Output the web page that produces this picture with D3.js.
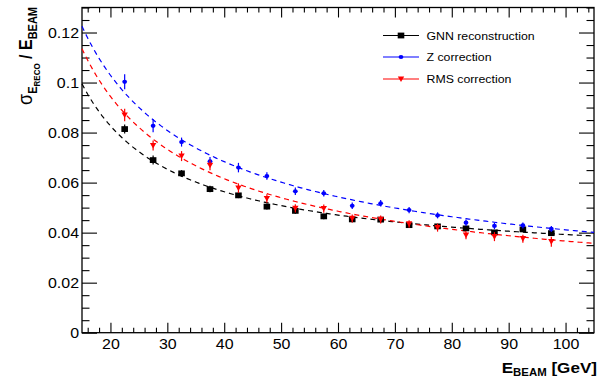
<!DOCTYPE html>
<html>
<head>
<meta charset="utf-8">
<script src="https://cdn.jsdelivr.net/npm/d3@7"></script>
<style>
  html, body { margin: 0; padding: 0; background: #fff; }
  svg { display: block; font-family: "Liberation Sans", Arial, Helvetica, sans-serif; }
</style>
</head>
<body>
<svg id="chart" width="612" height="383"></svg>
<script>
// Beam energies (GeV) of the measured points
const energies = [22.5, 27.5, 32.5, 37.5, 42.5, 47.5, 52.5, 57.5, 62.5, 67.5, 72.5, 77.5, 82.5, 87.5, 92.5, 97.5];

// Relative energy resolution for each method, with its uncertainty
const gnnRes = [0.0814, 0.0690, 0.0637, 0.0574, 0.0549, 0.0504, 0.0487, 0.0465, 0.0453, 0.0452, 0.0430, 0.0425, 0.0417, 0.0401, 0.0413, 0.0398];
const gnnErr = [0.0018, 0.0018, 0.0013, 0.0013, 0.0011, 0.0012, 0.0011, 0.0011, 0.0011, 0.0011, 0.0010, 0.0010, 0.0010, 0.0010, 0.0010, 0.0010];
const zRes   = [0.1003, 0.0827, 0.0762, 0.0685, 0.0660, 0.0626, 0.0565, 0.0557, 0.0507, 0.0517, 0.0490, 0.0469, 0.0440, 0.0427, 0.0429, 0.0415];
const zErr   = [0.0030, 0.0026, 0.0018, 0.0017, 0.0019, 0.0015, 0.0015, 0.0013, 0.0013, 0.0013, 0.0012, 0.0012, 0.0013, 0.0013, 0.0012, 0.0012];
const rmsRes = [0.0870, 0.0748, 0.0706, 0.0669, 0.0578, 0.0536, 0.0497, 0.0496, 0.0457, 0.0453, 0.0435, 0.0420, 0.0390, 0.0384, 0.0376, 0.0364];
const rmsErr = [0.0025, 0.0020, 0.0020, 0.0020, 0.0019, 0.0017, 0.0016, 0.0016, 0.0016, 0.0016, 0.0015, 0.0016, 0.0016, 0.0018, 0.0016, 0.0020];

// Fit parameters, f(E) = a * E^-p + b
const gnnFit = [0.8418, 0.90, 0.0259];
const zFit   = [0.6676, 0.65, 0.00767];
const rmsFit = [0.6965, 0.70, 0.00891];

// Axis ticks
const xMajor = [20, 30, 40, 50, 60, 70, 80, 90, 100];
const yMajor = [0, 0.02, 0.04, 0.06, 0.08, 0.1, 0.12];
const yLabels = ["0", "0.02", "0.04", "0.06", "0.08", "0.1", "0.12"];

const legendNames = ["GNN reconstruction", "Z correction", "RMS correction"];

const svg = d3.select("#chart");
const L = 82, R = 594, T = 7.5, B = 332.7;
const TX = 1.14; // horizontal glyph stretch of the canvas

const x = d3.scaleLinear().domain([15, 105]).range([L, R]);
const y = d3.scaleLinear().domain([0, 0.13]).range([B, T]);

const xMinor = d3.range(16, 105, 2).filter(v => v % 10 !== 0);
const yMinor = d3.range(0, 0.1301, 0.005).filter(v => Math.abs(v / 0.02 - Math.round(v / 0.02)) > 1e-6);

function styleAxis(g) {
  g.select(".domain").remove();
  g.selectAll(".tick line").attr("stroke", "#000").attr("stroke-width", 1.1);
}

// bottom axis
svg.append("g").attr("transform", `translate(0,${B})`)
  .call(d3.axisBottom(x).tickValues(xMajor).tickSize(-10).tickPadding(5).tickFormat(d3.format("d")))
  .call(styleAxis)
  .call(g => g.selectAll("text").attr("font-size", 14).attr("fill", "#000")
      .attr("font-family", "Liberation Sans, Arial, sans-serif")
      .attr("y", 16.3).attr("dy", 0).attr("transform", `scale(${TX},1)`));
svg.append("g").attr("transform", `translate(0,${B})`)
  .call(d3.axisBottom(x).tickValues(xMinor).tickSize(-5).tickFormat(""))
  .call(styleAxis);
// top axis
svg.append("g").attr("transform", `translate(0,${T})`)
  .call(d3.axisTop(x).tickValues(xMajor).tickSize(-10).tickFormat(""))
  .call(styleAxis);
svg.append("g").attr("transform", `translate(0,${T})`)
  .call(d3.axisTop(x).tickValues(xMinor).tickSize(-5).tickFormat(""))
  .call(styleAxis);
// left axis
svg.append("g").attr("transform", `translate(${L},0)`)
  .call(d3.axisLeft(y).tickValues(yMajor).tickSize(-15).tickPadding(3).tickFormat((d, i) => yLabels[i]))
  .call(styleAxis)
  .call(g => g.selectAll("text").attr("font-size", 14).attr("fill", "#000")
      .attr("font-family", "Liberation Sans, Arial, sans-serif")
      .attr("x", -3 / TX).attr("dy", "0.36em").attr("transform", `scale(${TX},1)`));
svg.append("g").attr("transform", `translate(${L},0)`)
  .call(d3.axisLeft(y).tickValues(yMinor).tickSize(-7.5).tickFormat(""))
  .call(styleAxis);
// right axis
svg.append("g").attr("transform", `translate(${R},0)`)
  .call(d3.axisRight(y).tickValues(yMajor).tickSize(-15).tickFormat(""))
  .call(styleAxis);
svg.append("g").attr("transform", `translate(${R},0)`)
  .call(d3.axisRight(y).tickValues(yMinor).tickSize(-7.5).tickFormat(""))
  .call(styleAxis);

// frame
svg.append("rect").attr("x", L).attr("y", T).attr("width", R - L).attr("height", B - T)
  .attr("fill", "none").attr("stroke", "#000").attr("stroke-width", 1.3);

const series = [
  { name: legendNames[0], res: gnnRes, err: gnnErr, fit: gnnFit, color: "#000000", marker: "square" },
  { name: legendNames[1], res: zRes,   err: zErr,   fit: zFit,   color: "#0000ff", marker: "circle" },
  { name: legendNames[2], res: rmsRes, err: rmsErr, fit: rmsFit, color: "#ff0000", marker: "tri" }
];

const fitE = d3.range(15, 105.001, 0.5);
const line = d3.line().x(d => x(d[0])).y(d => y(d[1]));

function drawMarker(g, type, cx, cy, color) {
  if (type === "square") {
    g.append("rect").attr("x", cx - 3.3).attr("y", cy - 2.9).attr("width", 6.6).attr("height", 5.8).attr("fill", color);
  } else if (type === "circle") {
    g.append("ellipse").attr("cx", cx).attr("cy", cy).attr("rx", 2.4).attr("ry", 2.1).attr("fill", color);
  } else {
    g.append("path").attr("d", `M${cx - 3.2},${cy - 2.6}L${cx + 3.2},${cy - 2.6}L${cx},${cy + 3}Z`).attr("fill", color);
  }
}

// fit curves
series.forEach(s => {
  const [a, p, b] = s.fit;
  svg.append("path")
    .datum(fitE.map(e => [e, a * Math.pow(e, -p) + b]))
    .attr("d", line).attr("fill", "none").attr("stroke", s.color)
    .attr("stroke-width", 1.2).attr("stroke-dasharray", "5,4");
});

// points with error bars
series.forEach(s => {
  const g = svg.append("g");
  energies.forEach((e, i) => {
    g.append("line").attr("x1", x(e)).attr("x2", x(e))
      .attr("y1", y(s.res[i] - s.err[i])).attr("y2", y(s.res[i] + s.err[i]))
      .attr("stroke", s.color).attr("stroke-width", 1.2);
    drawMarker(g, s.marker, x(e), y(s.res[i]), s.color);
  });
});

// legend
const legY = [35.5, 57, 79];
series.forEach((s, i) => {
  const g = svg.append("g");
  g.append("line").attr("x1", 383).attr("x2", 419).attr("y1", legY[i]).attr("y2", legY[i])
    .attr("stroke", s.color).attr("stroke-width", 1.2);
  drawMarker(g, s.marker, 401, legY[i], s.color);
  g.append("text").attr("transform", `translate(426.5,${legY[i] + 4}) scale(${TX},1)`)
    .attr("font-size", 10.8).attr("fill", "#000").text(s.name);
});

// x axis title
const xt = svg.append("text")
  .attr("transform", `translate(597,372.5) scale(${TX},1)`)
  .attr("text-anchor", "end").attr("font-weight", "bold").attr("font-size", 15).attr("fill", "#000");
xt.append("tspan").text("E");
xt.append("tspan").attr("font-size", 10).attr("dy", 3.5).text("BEAM");
xt.append("tspan").attr("dy", -3.5).text(" [GeV]");

// y axis title
const yt = svg.append("text")
  .attr("transform", `translate(32,7) scale(${TX},1) rotate(-90)`)
  .attr("text-anchor", "end").attr("font-weight", "bold").attr("font-size", 16).attr("fill", "#000");
yt.append("tspan").attr("font-weight", "normal").attr("font-size", 18).text("σ");
yt.append("tspan").attr("font-size", 11).attr("dy", 4).text("E");
yt.append("tspan").attr("font-size", 8).attr("dy", 3).text("RECO");
yt.append("tspan").attr("dy", -7).text(" / E");
yt.append("tspan").attr("font-size", 11).attr("dy", 4).text("BEAM");
</script>
</body>
</html>
